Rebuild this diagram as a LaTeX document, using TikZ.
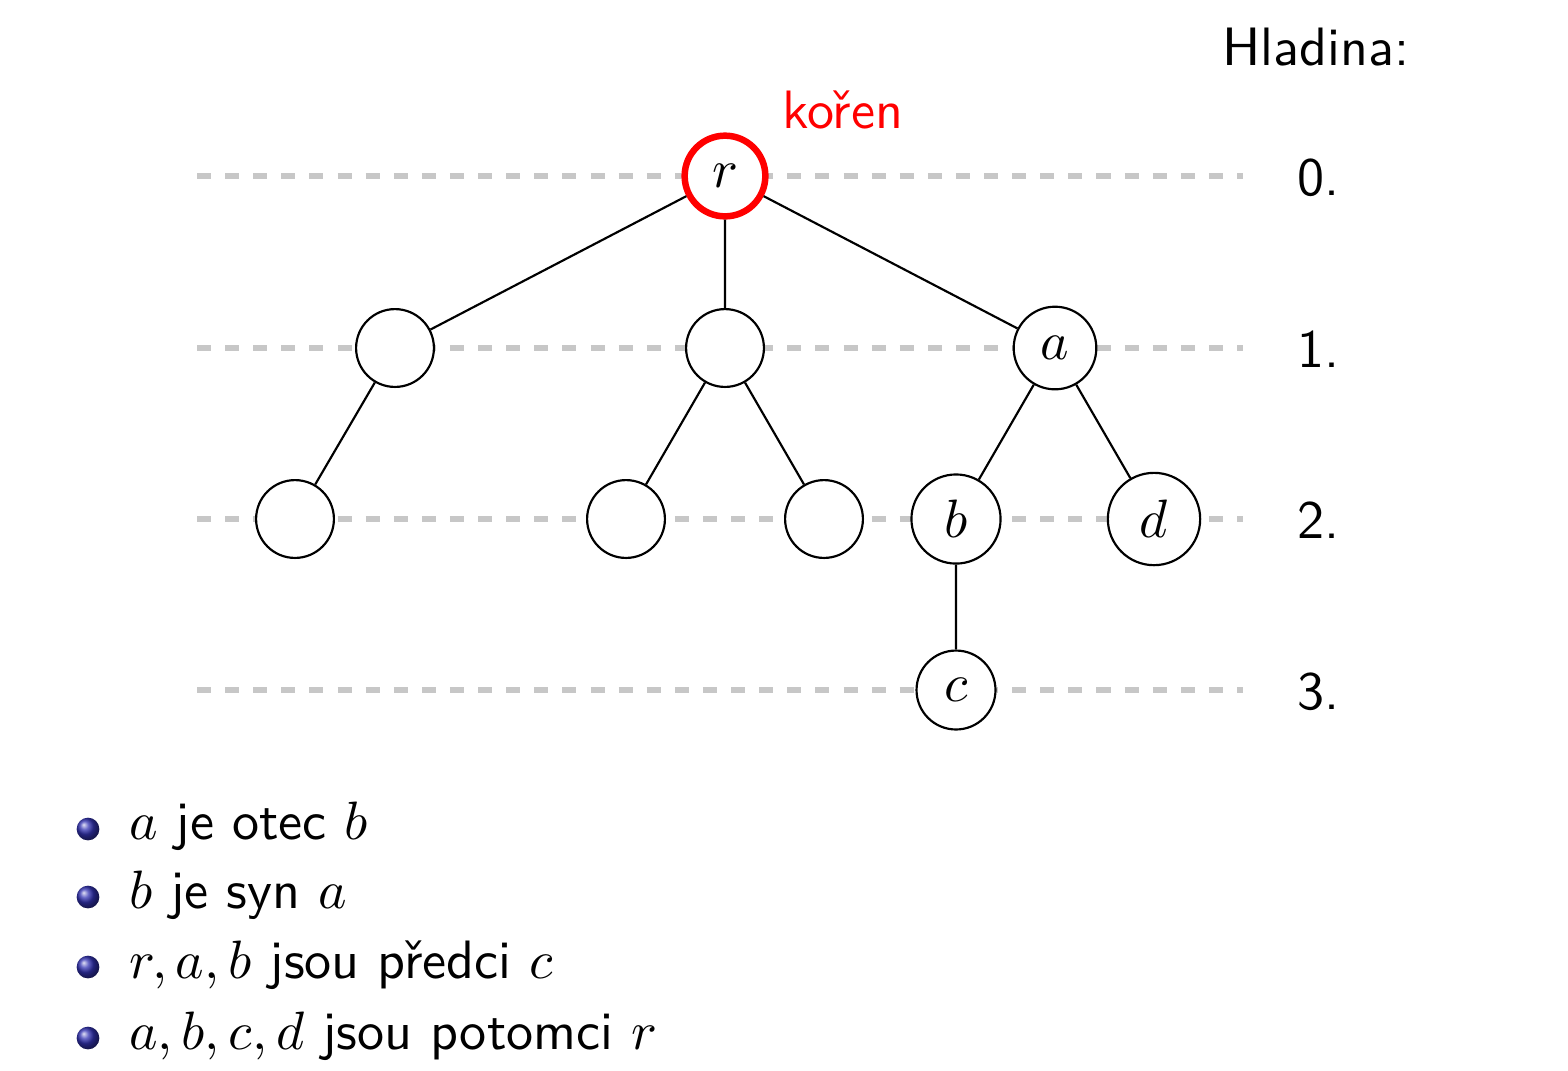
\documentclass[tikz,border=0pt]{standalone}
\usepackage{fontspec}
\definecolor{struktura}{RGB}{51,51,179}
\begin{document}
\begin{tikzpicture}[x=0.185pt,y=-0.185pt,line join=round,font=\sffamily,
	vrchol/.style={circle,draw,fill=white,line width=0.4pt,minimum size=14.4pt,inner sep=3pt},
	popis/.style={anchor=base west,inner sep=0pt},
	hladina/.style={dashed,dash pattern=on 2.6pt off 2.6pt,line width=0.95pt,color=black!22},
	odrazka/.style={ball color=struktura,draw=none}]
	\useasboundingbox (0,0) rectangle (1568,1070);
	% hladiny
	\draw[hladina] (197,176)--(1243,176);
	\draw[hladina] (197,348)--(1243,348);
	\draw[hladina] (197,519)--(1243,519);
	\draw[hladina] (197,690)--(1243,690);
	\node[popis] (hl) at (1221,65) {Hladina:};
	\node[popis] (h0) at (1296,195) {0.};
	\node[popis] (h1) at (1296,367) {1.};
	\node[popis] (h2) at (1296,538) {2.};
	\node[popis] (h3) at (1296,709) {3.};
	% strom
	\node[vrchol,draw=red,line width=1.2pt] (r) at (725,176) {$r$};
	\node[popis,text=red] (koren) at (781,128) {kořen};
	\node[vrchol] (u) at (395,348) {};
	\node[vrchol] (v) at (725,348) {};
	\node[vrchol] (a) at (1055,348) {$a$};
	\node[vrchol] (u1) at (295,519) {};
	\node[vrchol] (v1) at (626,519) {};
	\node[vrchol] (v2) at (824,519) {};
	\node[vrchol] (b) at (956,519) {$b$};
	\node[vrchol] (d) at (1154,519) {$d$};
	\node[vrchol] (c) at (956,690) {$c$};
	\draw (r)--(u) (r)--(v) (r)--(a);
	\draw (u)--(u1) (v)--(v1) (v)--(v2) (a)--(b) (a)--(d) (b)--(c);
	% odrazky
	\shade[odrazka] (88,829) circle(2.1pt);
	\shade[odrazka] (88,897) circle(2.1pt);
	\shade[odrazka] (88,967) circle(2.1pt);
	\shade[odrazka] (88,1038) circle(2.1pt);
	\node[popis] (t1) at (128,839) {$a$ je otec $b$};
	\node[popis] (t2) at (128,908) {$b$ je syn $a$};
	\node[popis] (t3) at (128,978) {$r,a,b$ jsou předci $c$};
	\node[popis] (t4) at (128,1049) {$a,b,c,d$ jsou potomci $r$};
\end{tikzpicture}
\end{document}
